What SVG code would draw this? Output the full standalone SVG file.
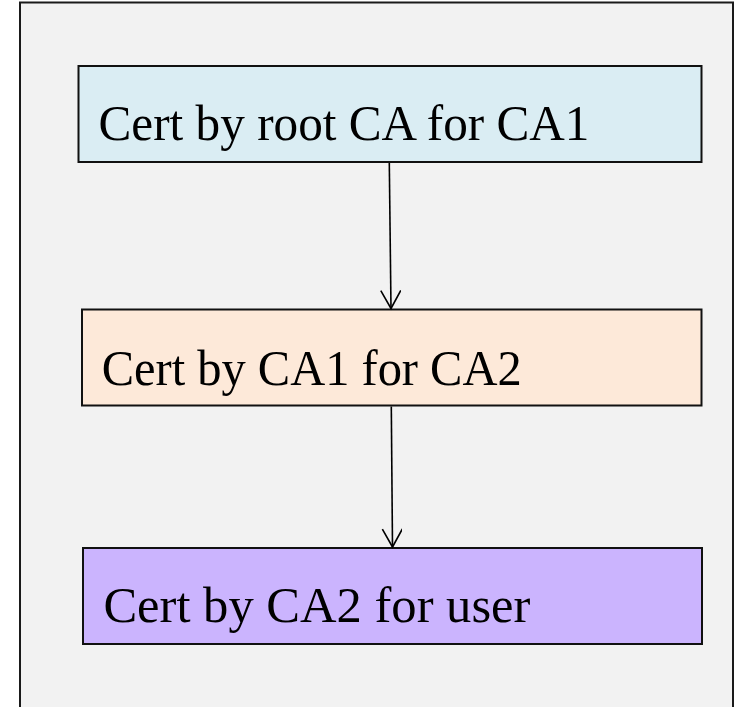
<svg xmlns="http://www.w3.org/2000/svg" width="737" height="707" viewBox="0 0 737 707">
  <defs>
    <style>
      .frame { fill: #f2f2f2; stroke: #1a1a1a; stroke-width: 2; }
      .box { stroke: #111; stroke-width: 2; }
      .label { font-family: "Liberation Serif", "DejaVu Serif", serif; font-size: 50px; fill: #000; }
      .conn { stroke: #000; stroke-width: 1.6; fill: none; }
    </style>
    <marker id="openArrow" markerWidth="24" markerHeight="24" refX="19" refY="10" orient="auto" markerUnits="userSpaceOnUse">
      <path d="M1,0 L19,10 L1,20" fill="none" stroke="#000" stroke-width="1.6"/>
    </marker>
  </defs>
  <rect width="737" height="707" fill="#ffffff"/>
  <rect class="frame" x="20" y="2.5" width="713" height="720"/>
  <g id="node-root">
    <rect class="box" x="78.5" y="66" width="623" height="96" fill="#daedf3"/>
    <text class="label" x="98.5" y="139.5" textLength="491" lengthAdjust="spacingAndGlyphs">Cert by root CA for CA1</text>
  </g>
  <g id="node-ca1">
    <rect class="box" x="82" y="309.5" width="619.5" height="96" fill="#fde9d9"/>
    <text class="label" x="101.7" y="384.5" textLength="420" lengthAdjust="spacingAndGlyphs">Cert by CA1 for CA2</text>
  </g>
  <g id="node-ca2">
    <rect class="box" x="83" y="548" width="619" height="96" fill="#cbb4fe"/>
    <text class="label" x="103.4" y="622" textLength="427" lengthAdjust="spacingAndGlyphs">Cert by CA2 for user</text>
  </g>
  <g id="connectors">
    <line class="conn" x1="389.3" y1="163" x2="391" y2="308.5" marker-end="url(#openArrow)"/>
    <line class="conn" x1="391.3" y1="406.5" x2="392.5" y2="547" marker-end="url(#openArrow)"/>
  </g>
</svg>
